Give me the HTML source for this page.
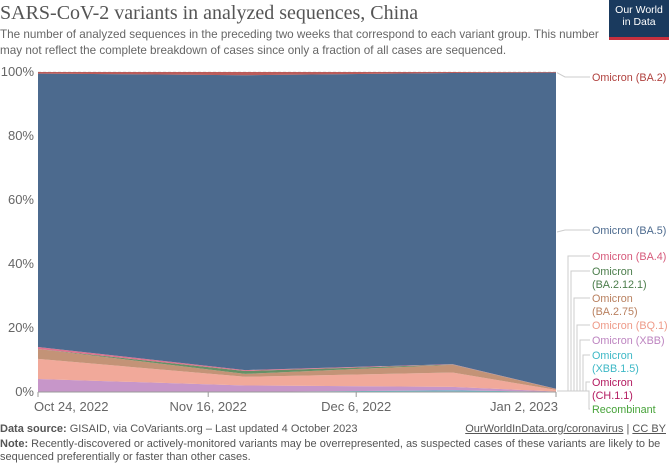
<!DOCTYPE html>
<html><head><meta charset="utf-8"><style>
body{margin:0;width:669px;height:464px;background:#fff;font-family:"Liberation Sans",sans-serif;overflow:hidden;position:relative}
.t{position:absolute;white-space:nowrap}
</style></head><body>
<div class="t" style="left:0;top:2px;font-family:'Liberation Serif',serif;font-size:20px;color:#555">SARS-CoV-2 variants in analyzed sequences, China</div>
<div class="t" style="left:0;top:27px;font-size:11.7px;color:#666;line-height:16px">The number of analyzed sequences in the preceding two weeks that correspond to each variant group. This number<br>may not reflect the complete breakdown of cases since only a fraction of all cases are sequenced.</div>
<div style="position:absolute;left:609px;top:0;width:60px;height:40px;background:#1a3a5e;border-bottom:3px solid #c6303e;color:#fff;font-size:10.5px;text-align:center;line-height:12px;padding-top:4px;box-sizing:border-box">Our World<br>in Data</div>
<svg id="c" width="669" height="464" style="position:absolute;left:0;top:0"></svg>
<div class="t" style="left:0;top:423px;font-size:11px;color:#555"><b>Data source:</b> GISAID, via CoVariants.org – Last updated 4 October 2023</div>
<div class="t" style="right:3px;top:423px;font-size:11px;color:#555"><u>OurWorldInData.org/coronavirus</u> | <u>CC BY</u></div>
<div class="t" style="left:0;top:438px;font-size:11px;color:#555;line-height:13px"><b>Note:</b> Recently-discovered or actively-monitored variants may be overrepresented, as suspected cases of these variants are likely to be<br>sequenced preferentially or faster than other cases.</div>
<script>
const days=[0,28,56,70];
const xLabels=["Oct 24, 2022","Nov 16, 2022","Dec 6, 2022","Jan 2, 2023"];
const xTickDays=[0,23,43,70];
const yTicks=[0,20,40,60,80,100];
const recombinant=[0.05,0.05,0.1,0];
const ch11=[0,0,0.1,0];
const xbb15=[0,0,0.3,0.05];
const xbb=[4,2,1.1,0.1];
const bq1=[6.3,2.7,4.5,0.5];
const ba275=[3.1,0.9,2.4,0.3];
const ba2121=[0,0.9,0.1,0];
const ba4=[0.6,0.3,0.1,0.05];
const ba2=[0.5,1,0.3,0.2];
const names=["Recombinant","Omicron (CH.1.1)","Omicron (XBB.1.5)","Omicron (XBB)","Omicron (BQ.1)","Omicron (BA.2.75)","Omicron (BA.2.12.1)","Omicron (BA.4)","Omicron (BA.5)","Omicron (BA.2)"];
const colors=["#47a33a","#b3195f","#3db8c6","#bd84c0","#ee9a88","#b9805f","#4b7d4b","#d6597a","#4c6a8e","#b0413e"];
const ba5=days.map((d,i)=>100-[recombinant,ch11,xbb15,xbb,bq1,ba275,ba2121,ba4,ba2].reduce((s,a)=>s+a[i],0));
const series=[recombinant,ch11,xbb15,xbb,bq1,ba275,ba2121,ba4,ba5,ba2];
const X=d=>38+d*(518/70), Y=v=>392-v*3.2;
const svg=document.getElementById('c'),NS="http://www.w3.org/2000/svg";
function mk(t,a){const e=document.createElementNS(NS,t);for(const k in a)e.setAttribute(k,a[k]);svg.appendChild(e);return e;}
yTicks.forEach(v=>{
 if(v>0){const g=mk('line',{x1:38,x2:556,y1:Y(v),y2:Y(v),stroke:'#ddd','stroke-dasharray':'3,2'});
 
 }
 const t=mk('text',{x:34,y:Y(v)+4,'text-anchor':'end','font-size':13,fill:'#666','font-family':'Liberation Sans'});t.textContent=v+'%';
 
 
});
let base=days.map(()=>0);
series.forEach((s,k)=>{
 const top=base.map((b,i)=>b+s[i]);
 let p=days.map((d,i)=>X(d)+','+Y(top[i])).join(' ')+' '+days.slice().reverse().map((d,j)=>{const i=days.length-1-j;return X(d)+','+Y(base[i]);}).join(' ');
 const a=mk('polygon',{points:p,fill:colors[k],'fill-opacity':k==8?1:0.85});
 
 
 base=top;
});
mk('line',{x1:38,x2:556,y1:392,y2:392,stroke:'#999'});
xTickDays.forEach((d,i)=>{
 mk('line',{x1:X(d),x2:X(d),y1:392,y2:397,stroke:'#999'});
 const t=mk('text',{x:i==0?X(d)-4:(i==3?X(d)+2:X(d)),y:411,'text-anchor':i==0?'start':(i==3?'end':'middle'),'font-size':13,fill:'#666','font-family':'Liberation Sans'});t.textContent=xLabels[i];
 
 
});
const leg=[[9,["Omicron (BA.2)"],81],[8,["Omicron (BA.5)"],234],[7,["Omicron (BA.4)"],260],[6,["Omicron","(BA.2.12.1)"],275],[5,["Omicron","(BA.2.75)"],302],[4,["Omicron (BQ.1)"],329],[3,["Omicron (XBB)"],344],[2,["Omicron","(XBB.1.5)"],359],[1,["Omicron","(CH.1.1)"],386],[0,["Recombinant"],413]];
leg.forEach(([k,lines,y],j)=>{
 const bx=j<2?565:568+(j-2)*3;
 mk('path',{d:`M557,${j<2?Y(j==0?99.8:50):391} L${bx},${j<2?y-4:391} L${bx},${y-4} L590,${y-4}`,fill:'none',stroke:'#ccc'});
 const t=mk('text',{x:592,y:y,'font-size':10.8,fill:colors[k],'font-family':'Liberation Sans'});
 lines.forEach((l,m)=>{const ts=document.createElementNS(NS,'tspan');ts.setAttribute('x',592);ts.setAttribute('dy',m?13:0);ts.textContent=l;t.appendChild(ts);});
 
 
});
</script>
</body></html>
